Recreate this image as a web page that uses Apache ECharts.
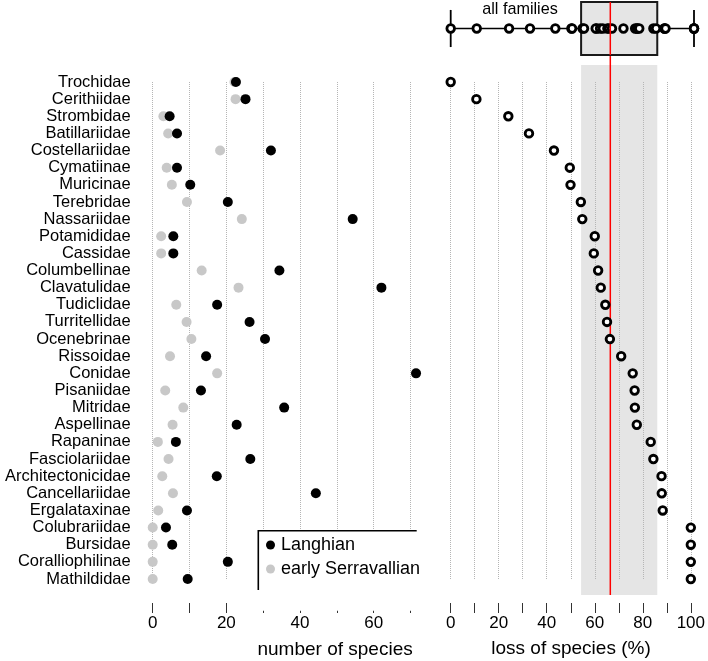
<!DOCTYPE html>
<html>
<head>
<meta charset="utf-8">
<script src="https://cdn.jsdelivr.net/npm/echarts@6/dist/echarts.min.js"></script>
<style>html,body{margin:0;padding:0;background:#fff;}#chart{width:708px;height:661px;}</style>
</head>
<body>
<div id="chart"></div>
<script>
const families = ['Trochidae','Cerithiidae','Strombidae','Batillariidae','Costellariidae','Cymatiinae','Muricinae','Terebridae','Nassariidae','Potamididae','Cassidae','Columbellinae','Clavatulidae','Tudiclidae','Turritellidae','Ocenebrinae','Rissoidae','Conidae','Pisaniidae','Mitridae','Aspellinae','Rapaninae','Fasciolariidae','Architectonicidae','Cancellariidae','Ergalataxinae','Colubrariidae','Bursidae','Coralliophilinae','Mathildidae'];
const langhian = [22.6,25.2,4.6,6.6,32.1,6.6,10.2,20.4,54.3,5.6,5.6,34.4,62.1,17.5,26.3,30.5,14.5,71.5,13.1,35.7,22.8,6.3,26.5,17.4,44.3,9.3,3.6,5.3,20.4,9.5];
const serravallian = [22.2,22.5,2.9,4.2,18.3,3.8,5.2,9.3,24.2,2.3,2.3,13.3,23.3,6.4,9.2,10.5,4.7,17.5,3.4,8.3,5.4,1.4,4.3,2.6,5.5,1.5,0,0,0,0];
const lossPct = [0,10.7,24.0,32.6,43.0,49.6,49.9,54.2,54.8,60.0,59.6,61.4,62.5,64.4,65.1,66.3,71.0,75.8,76.6,76.7,77.5,83.3,84.4,87.8,87.9,88.3,100,100,100,100];
// [min, lower hinge, median, upper hinge, max]
const boxStats = [0,53.6,65.6,84.9,100];
const speciesTicks = [0,20,40,60];
const lossTicks = [0,20,40,60,80,100];

const FONT = '"Liberation Sans", Arial, sans-serif';
const chart = echarts.init(document.getElementById('chart'));

const valueAxisCommon = (min, max, labels, gridIndex, z) => ({
  type: 'value', gridIndex: gridIndex, min: min, max: max, interval: 10, offset: 24, z: z,
  axisLine: {show: false},
  axisTick: {show: true, length: 10, lineStyle: {color: '#333', width: 1}},
  axisLabel: {margin: 12, fontSize: 17, color: '#000', fontFamily: FONT,
    formatter: v => labels.indexOf(v) >= 0 ? String(v) : ''},
  splitLine: {show: true, lineStyle: {type: 'dotted', color: '#b5b5b5', width: 1}}
});

const hiddenValue = (gridIndex, min, max) => ({type: 'value', gridIndex: gridIndex, min: min, max: max, show: false, splitLine: {show: false}});

const option = {
  animation: false,
  backgroundColor: '#fff',
  grid: [
    {left: 152.7, width: 257.8, top: 82, height: 497},
    {left: 450.7, width: 243.3, top: 82, height: 497},
    {left: 450.7, width: 243.3, top: 2, height: 53},
    {left: 450.7, width: 243.3, top: 55, height: 540}
  ],
  xAxis: [
    valueAxisCommon(0, 70, speciesTicks, 0, 0),
    valueAxisCommon(0, 100, lossTicks, 1, 1.5),
    hiddenValue(2, 0, 100),
    hiddenValue(3, 0, 100)
  ],
  yAxis: [
    {type: 'category', gridIndex: 0, data: families, inverse: true, boundaryGap: false,
     axisLine: {show: false}, axisTick: {show: false}, splitLine: {show: false},
     axisLabel: {fontSize: 16.5, color: '#000', margin: 22, fontFamily: FONT, interval: 0}},
    {type: 'category', gridIndex: 1, data: families, inverse: true, boundaryGap: false, show: false},
    hiddenValue(2, 0, 1),
    hiddenValue(3, 0, 1)
  ],
  legend: {
    orient: 'vertical', left: 266, top: 536, padding: 0, itemGap: 6, z: 6,
    itemWidth: 9, itemHeight: 9, icon: 'circle', selectedMode: false,
    textStyle: {fontSize: 18, color: '#000', fontFamily: FONT, padding: [0,0,0,1]},
    data: ['Langhian', 'early Serravallian']
  },
  graphic: [
    {type: 'rect', z: 5, shape: {x: 258.3, y: 530.7, width: 170, height: 80}, style: {fill: '#fff'}},
    {type: 'polyline', z: 5, shape: {points: [[258.3, 590], [258.3, 530.7], [416.7, 530.7]]}, style: {stroke: '#000', lineWidth: 1.6, fill: null}},
    {type: 'text', z: 5, style: {text: 'number of species', x: 412.7, y: 650, align: 'right', verticalAlign: 'middle', fontSize: 19, fill: '#000', fontFamily: FONT}},
    {type: 'text', z: 5, style: {text: 'loss of species (%)', x: 571, y: 649, align: 'center', verticalAlign: 'middle', fontSize: 19, fill: '#000', fontFamily: FONT}},
    {type: 'text', z: 5, style: {text: 'all families', x: 520, y: 10, align: 'center', verticalAlign: 'middle', fontSize: 16.2, fill: '#000', fontFamily: FONT}}
  ],
  series: [
    {name: 'early Serravallian', type: 'scatter', xAxisIndex: 0, yAxisIndex: 0, z: 2, clip: false,
     symbol: 'circle', symbolSize: 10, itemStyle: {color: '#c8c8c8', opacity: 1},
     data: serravallian.map((v, i) => [v, families[i]])},
    {name: 'Langhian', type: 'scatter', xAxisIndex: 0, yAxisIndex: 0, z: 3, clip: false,
     symbol: 'circle', symbolSize: 10, itemStyle: {color: '#000', opacity: 1},
     data: langhian.map((v, i) => [v, families[i]])},
    {name: 'loss', type: 'custom', xAxisIndex: 3, yAxisIndex: 3, z: 1, silent: true, clip: false,
     data: [[boxStats[1], boxStats[3]]],
     renderItem: (params, api) => {
       const a = api.coord([api.value(0), 1]);
       const b = api.coord([api.value(1), 0]);
       return {type: 'rect', shape: {x: a[0], y: a[1] + 10, width: b[0] - a[0], height: b[1] - a[1] - 10}, style: {fill: '#e5e5e5'}};
     }},
    {name: 'lossMedian', type: 'custom', xAxisIndex: 3, yAxisIndex: 3, z: 2, silent: true, clip: false,
     data: [[boxStats[2]]],
     renderItem: (params, api) => {
       const a = api.coord([api.value(0), 1]);
       const b = api.coord([api.value(0), 0]);
       return {type: 'line', shape: {x1: a[0], y1: a[1], x2: b[0], y2: b[1]}, style: {stroke: '#ff0000', lineWidth: 1.5}};
     }},
    {name: 'lossPoints', type: 'scatter', xAxisIndex: 1, yAxisIndex: 1, z: 3, clip: false,
     symbol: 'circle', symbolSize: 7.6, itemStyle: {color: '#fff', borderColor: '#000', borderWidth: 2.8, opacity: 1},
     data: lossPct.map((v, i) => [v, families[i]])},
    {name: 'box', type: 'custom', xAxisIndex: 2, yAxisIndex: 2, z: 2, silent: true, clip: false,
     data: [boxStats],
     renderItem: (params, api) => {
       const mn = api.value(0), q1 = api.value(1), q3 = api.value(3), mx = api.value(4);
       const p = (x, y) => api.coord([x, y]);
       const lt = p(q1, 1), rb = p(q3, 0);
       const c1 = p(mn, 0.5), c2 = p(q1, 0.5), c3 = p(q3, 0.5), c4 = p(mx, 0.5);
       const capT1 = p(mn, 0.85), capB1 = p(mn, 0.15), capT2 = p(mx, 0.85), capB2 = p(mx, 0.15);
       return {type: 'group', children: [
         {type: 'rect', shape: {x: lt[0], y: lt[1], width: rb[0] - lt[0], height: rb[1] - lt[1]}, style: {fill: '#e5e5e5', stroke: '#1a1a1a', lineWidth: 2}},
         {type: 'line', shape: {x1: c1[0], y1: c1[1], x2: c2[0], y2: c2[1]}, style: {stroke: '#000', lineWidth: 1.5}},
         {type: 'line', shape: {x1: c3[0], y1: c3[1], x2: c4[0], y2: c4[1]}, style: {stroke: '#000', lineWidth: 1.5}},
         {type: 'line', shape: {x1: capT1[0], y1: capT1[1], x2: capB1[0], y2: capB1[1]}, style: {stroke: '#000', lineWidth: 1.8}},
         {type: 'line', shape: {x1: capT2[0], y1: capT2[1], x2: capB2[0], y2: capB2[1]}, style: {stroke: '#000', lineWidth: 1.8}}
       ]};
     }},
    {name: 'boxPoints', type: 'scatter', xAxisIndex: 2, yAxisIndex: 2, z: 3, clip: false,
     symbol: 'circle', symbolSize: 7.6, itemStyle: {color: '#fff', borderColor: '#000', borderWidth: 2.8, opacity: 1},
     data: lossPct.map(v => [v, 0.5])},
    {name: 'boxMedian', type: 'custom', xAxisIndex: 2, yAxisIndex: 2, z: 4, silent: true, clip: false,
     data: [[boxStats[2]]],
     renderItem: (params, api) => {
       const a = api.coord([api.value(0), 1]);
       const b = api.coord([api.value(0), 0]);
       return {type: 'line', shape: {x1: a[0], y1: a[1], x2: b[0], y2: b[1]}, style: {stroke: '#ff0000', lineWidth: 1.5}};
     }}
  ]
};
chart.setOption(option);
</script>
</body>
</html>
